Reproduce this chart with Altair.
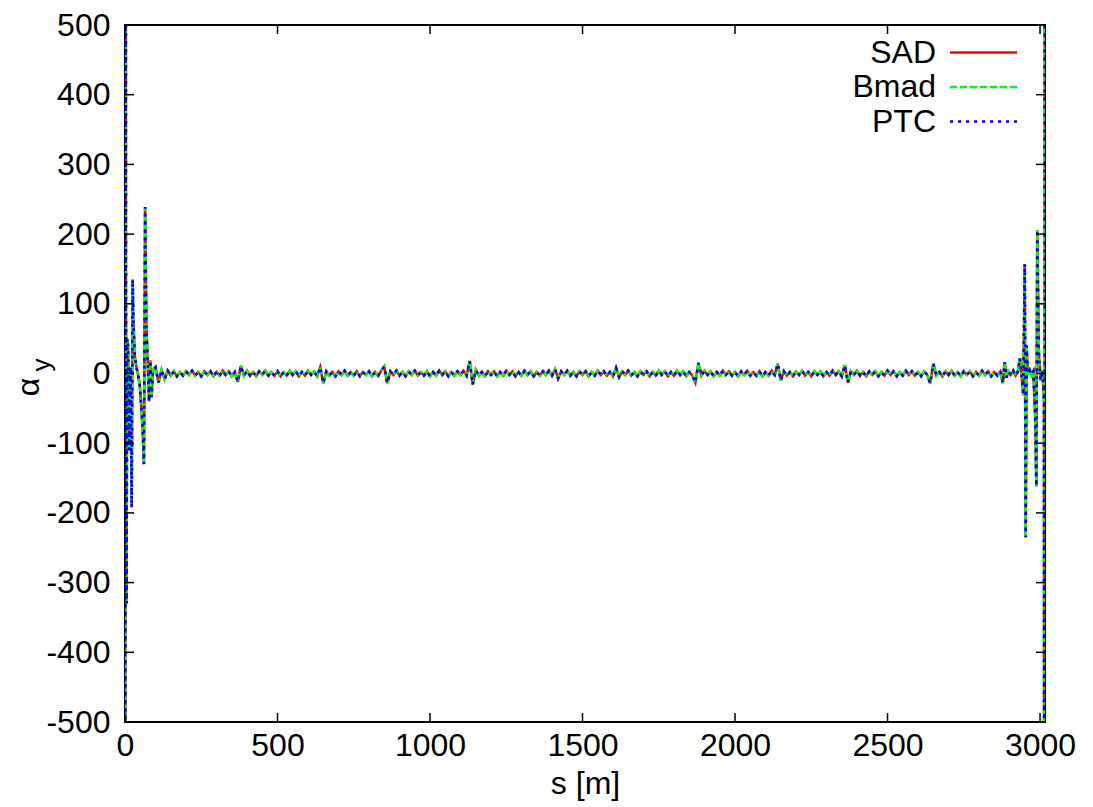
import altair as alt
import pandas as pd

# ---------------- data ----------------
# left interaction region
s_left = [0, 0.7, 1.6, 3, 5, 7, 10, 14, 18, 22, 25, 28, 32, 37, 42, 48, 53, 58, 62, 66, 70, 75, 79, 83, 87, 92]
alpha_left = [0, -2400, 2200, 150, -330, 50, 40, -110, 10, -192, 135, 70, 25, 10, 0, -15, -45, -80, -130, 239, 70, 10, -40, 19, -34, 5]

# arc / straight sections
s_body = [
    100, 110, 120, 130, 140, 150, 160, 170, 180, 190,
    200, 210, 220, 230, 240, 250, 260, 270, 280, 290,
    300, 310, 320, 330, 340, 350, 360, 370, 380, 390,
    400, 410, 420, 430, 440, 450, 460, 470, 480, 490,
    500, 510, 520, 530, 540, 550, 560, 570, 580, 590,
    600, 610, 620, 630, 640, 650, 660, 670, 680, 690,
    700, 710, 720, 730, 740, 750, 760, 770, 780, 790,
    800, 810, 820, 830, 840, 850, 860, 870, 880, 890,
    900, 910, 920, 930, 940, 950, 960, 970, 980, 990,
    1000, 1010, 1020, 1030, 1040, 1050, 1060, 1070, 1080, 1090,
    1100, 1110, 1120, 1130, 1140, 1150, 1160, 1170, 1180, 1190,
    1200, 1210, 1220, 1230, 1240, 1250, 1260, 1270, 1280, 1290,
    1300, 1310, 1320, 1330, 1340, 1350, 1360, 1370, 1380, 1390,
    1400, 1410, 1420, 1430, 1440, 1450, 1460, 1470, 1480, 1490,
    1500, 1510, 1520, 1530, 1540, 1550, 1560, 1570, 1580, 1590,
    1600, 1610, 1620, 1630, 1640, 1650, 1660, 1670, 1680, 1690,
    1700, 1710, 1720, 1730, 1740, 1750, 1760, 1770, 1780, 1790,
    1800, 1810, 1820, 1830, 1840, 1850, 1860, 1870, 1880, 1890,
    1900, 1910, 1920, 1930, 1940, 1950, 1960, 1970, 1980, 1990,
    2000, 2010, 2020, 2030, 2040, 2050, 2060, 2070, 2080, 2090,
    2100, 2110, 2120, 2130, 2140, 2150, 2160, 2170, 2180, 2190,
    2200, 2210, 2220, 2230, 2240, 2250, 2260, 2270, 2280, 2290,
    2300, 2310, 2320, 2330, 2340, 2350, 2360, 2370, 2380, 2390,
    2400, 2410, 2420, 2430, 2440, 2450, 2460, 2470, 2480, 2490,
    2500, 2510, 2520, 2530, 2540, 2550, 2560, 2570, 2580, 2590,
    2600, 2610, 2620, 2630, 2640, 2650, 2660, 2670, 2680, 2690,
    2700, 2710, 2720, 2730, 2740, 2750, 2760, 2770, 2780, 2790,
    2800, 2810, 2820, 2830, 2840, 2850, 2860,
]
alpha_body = [
    9, -13, 5, -8, 4, -3, 3, -4, 2, -3,
    3, -2, 4, -3, 2, -4, 3, -2, 3, -4,
    2, -3, 4, -2, 3, -4, 2, -12, 11, -3,
    4, -3, 2, -4, 3, -2, 4, -3, 2, -3,
    3, -4, 2, -3, 4, -2, 3, -4, 2, -3,
    4, -2, 3, -4, 9, -14, 3, -3, 2, -4,
    3, -2, 4, -3, 2, -3, 3, -4, 2, -2,
    3, -4, 2, -3, 4, 10, -14, 3, -2, 4,
    -3, 2, -4, 3, -2, 4, -3, 2, -3, 3,
    -4, 2, -3, 4, -2, 3, -4, 2, -3, 3,
    -2, 4, -3, 18, -16, 5, -3, 2, -4, 3,
    -2, 3, -4, 2, -3, 4, -2, 3, -4, 2,
    -3, 4, -2, 3, -4, 2, -3, 3, -2, 4,
    -3, 6, -7, 3, -2, 4, -3, 2, -4, 3,
    -2, 3, -4, 2, -3, 4, -2, 3, -3, 2,
    -4, 8, -5, 3, -2, 4, -3, 2, -4, 3,
    -2, 3, -4, 2, -3, 4, -2, 3, -4, 2,
    -3, 4, -2, 3, -4, 2, -3, -13, 15, -3,
    4, -2, 3, -4, 2, -3, 4, -2, 3, -3,
    2, -4, 3, -2, 4, -3, 2, -3, 3, -4,
    2, -3, 4, -2, 14, -10, 3, -3, 2, -4,
    3, -2, 4, -3, 2, -4, 3, -2, 3, -4,
    2, -3, 4, -2, 3, -4, 12, -13, 3, -2,
    4, -3, 2, -4, 3, -2, 3, -4, 2, -3,
    4, -2, 3, -4, 2, -3, 4, -2, 3, -3,
    2, -4, 3, -2, -14, 14, -3, 2, -4, 3,
    -2, 4, -3, 2, -4, 3, -2, 3, -4, 2,
    -3, 4, -2, 3, -4, 2, -3,
]

# right interaction region
s_right = [2870, 2878, 2884, 2890, 2896, 2904, 2912, 2920, 2927, 2934, 2940, 2945, 2950, 2953,
           2956, 2960, 2966, 2972, 2978, 2984, 2988, 2991, 2996, 3002, 3008, 3013, 3014.8, 3015.8, 3016.3]
alpha_right = [3, -14, 16, -6, 3, -2, 4, -3, 2, 22, -5, -31, 157, -235,
               40, 0, 5, -2, 3, -60, -162, 206, 30, -10, 5, -40, -2500, 2500, 0]

s_all = s_left + s_body + s_right
alpha_sad = alpha_left + alpha_body + alpha_right
alpha_bmad = list(alpha_sad)
alpha_ptc = list(alpha_sad)

series_names = ["SAD", "Bmad", "PTC"]
series_values = [alpha_sad, alpha_bmad, alpha_ptc]
series_colors = ["#ff0000", "#00ff00", "#0000ff"]
series_dash = [[1, 0], [7, 3], [3, 5]]

x_ticks = [0, 500, 1000, 1500, 2000, 2500, 3000]
y_ticks = [-500, -400, -300, -200, -100, 0, 100, 200, 300, 400, 500]

# ---------------- chart ----------------
W, H = 920, 697
FONT = "Liberation Sans"
LABEL_EXPR = "'' + datum.value"  # plain hyphen-minus like gnuplot

x_scale = alt.Scale(domain=[0, 3016.3], nice=False, zero=False)
y_scale = alt.Scale(domain=[-500, 500], nice=False, zero=False)
x_axis = alt.Axis(values=x_ticks, title="s [m]", labelPadding=8, titlePadding=7, labelExpr=LABEL_EXPR)
y_axis = alt.Axis(values=y_ticks, title=None, labelPadding=15, labelExpr=LABEL_EXPR)

layers = []
for name, vals, col, dash in zip(series_names, series_values, series_colors, series_dash):
    df = pd.DataFrame({"s": s_all, "alpha": vals})
    layers.append(
        alt.Chart(df).mark_line(clip=True, color=col, strokeWidth=2.6, strokeDash=dash).encode(
            x=alt.X("s:Q", scale=x_scale, axis=x_axis),
            y=alt.Y("alpha:Q", scale=y_scale, axis=y_axis),
        )
    )

xt = pd.DataFrame({"t": x_ticks})
yt = pd.DataFrame({"t": y_ticks})
tick_x = alt.X("t:Q", scale=x_scale, axis=x_axis)
tick_y = alt.Y("t:Q", scale=y_scale, axis=y_axis)
layers += [
    alt.Chart(xt).mark_rule(color="black", strokeWidth=1.5).encode(x=tick_x, y=alt.value(H), y2=alt.value(H - 9)),
    alt.Chart(xt).mark_rule(color="black", strokeWidth=1.5).encode(x=tick_x, y=alt.value(0), y2=alt.value(9)),
    alt.Chart(yt).mark_rule(color="black", strokeWidth=1.5).encode(y=tick_y, x=alt.value(0), x2=alt.value(9)),
    alt.Chart(yt).mark_rule(color="black", strokeWidth=1.5).encode(y=tick_y, x=alt.value(W), x2=alt.value(W - 9)),
]

# legend (gnuplot style: label on the left, sample on the right)
for i, (name, col, dash) in enumerate(zip(series_names, series_colors, series_dash)):
    ly = 27.5 + 34.5 * i
    layers.append(
        alt.Chart(pd.DataFrame({"label": [name]})).mark_text(
            align="right", baseline="middle", font=FONT, fontSize=32, color="black"
        ).encode(x=alt.value(811), y=alt.value(ly), text="label:N")
    )
    layers.append(
        alt.Chart(pd.DataFrame({"label": [name]})).mark_rule(
            color=col, strokeWidth=2.5, strokeDash=dash
        ).encode(x=alt.value(825), x2=alt.value(892), y=alt.value(ly))
    )

# y-axis title: alpha with subscript y
layers.append(
    alt.Chart(pd.DataFrame({"t": ["α"]})).mark_text(
        angle=270, align="center", baseline="middle", font=FONT, fontSize=32, color="black"
    ).encode(x=alt.value(-96), y=alt.value(362), text="t:N")
)
layers.append(
    alt.Chart(pd.DataFrame({"t": ["y"]})).mark_text(
        angle=270, align="center", baseline="middle", font=FONT, fontSize=26, color="black"
    ).encode(x=alt.value(-83), y=alt.value(340), text="t:N")
)

chart = alt.layer(*layers).properties(
    width=W, height=H,
    autosize=alt.AutoSizeParams(type="none"),
    padding={"left": 125, "top": 25, "right": 48, "bottom": 85},
    background="white",
).configure_view(
    stroke="black", strokeWidth=2
).configure_axis(
    labelFont=FONT, labelFontSize=32, labelColor="black",
    titleFont=FONT, titleFontSize=32, titleFontWeight="normal", titleColor="black",
    ticks=False, domain=False, grid=False, labelFlush=False, labelOverlap=False,
)

chart.save("out.html", embed_options={"renderer": "svg", "actions": False})
